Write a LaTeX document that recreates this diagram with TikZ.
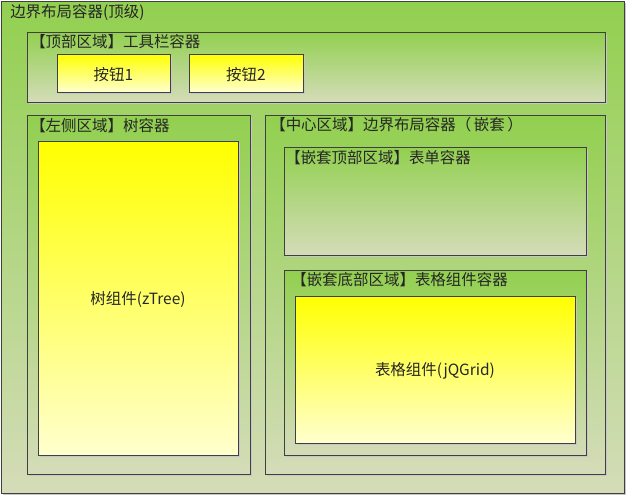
\documentclass[tikz,border=0pt]{standalone}
\usepackage{fontspec}
\setmainfont{Noto Sans CJK SC}
\usetikzlibrary{positioning,fit,shadows}

\definecolor{areatop}{RGB}{146,208,80}
\definecolor{areabot}{RGB}{212,220,184}
\definecolor{widgettop}{RGB}{255,255,0}
\definecolor{widgetbot}{RGB}{255,255,206}

\begin{document}
\begin{tikzpicture}[
    x=0.025cm, y=-0.025cm,
    region/.style={rectangle, draw=black!75, line width=0.7pt, inner sep=0pt, top color=areatop, bottom color=areabot, drop shadow={shadow xshift=0.05cm, shadow yshift=-0.05cm, fill=black!22, opacity=1}},
    widget/.style={region, top color=widgettop, bottom color=widgetbot},
    title/.style={anchor=west, inner sep=0pt, font=\fontsize{11}{13}\selectfont, text=black!85},
    caption/.style={inner sep=0pt, yshift=-0.04cm, font=\fontsize{11}{13}\selectfont, text=black!85}
]
    \useasboundingbox (0,0) rectangle (627,496);

    % outer border layout
    \node[region, fit={(1,1) (624,493)}] (outer) {};
    \node[title] (outertitle) at (10,12) {边界布局容器(顶级)};

    % top area
    \node[region, fit={(27,32) (605,102)}] (top) {};
    \node[title] (toptitle) at (30,42) {【顶部区域】工具栏容器};
    \node[widget, fit={(57,54) (170,92)}] (btnone) {};
    \node[caption] at (btnone.center) {按钮1};
    \node[widget, fit={(189,54) (303,92)}] (btntwo) {};
    \node[caption] at (btntwo.center) {按钮2};

    % left area
    \node[region, fit={(27,115) (250,474)}] (left) {};
    \node[title] (lefttitle) at (30,126) {【左侧区域】树容器};
    \node[widget, fit={(38,141) (238,455)}] (tree) {};
    \node[caption] at (tree.center) {树组件(zTree)};

    % center area
    \node[region, fit={(265,115) (605,474)}] (center) {};
    \node[title] (centertitle) at (270,125) {【中心区域】边界布局容器（\,嵌套\,）};

    \node[region, fit={(284,147) (586,255)}] (ntop) {};
    \node[title] (ntoptitle) at (285,158) {【嵌套顶部区域】表单容器};

    \node[region, fit={(284,270) (586,455)}] (nbottom) {};
    \node[title] (nbottomtitle) at (291,280) {【嵌套底部区域】表格组件容器};
    \node[widget, fit={(295,296) (575,443)}] (grid) {};
    \node[caption] at (grid.center) {表格组件(jQGrid)};
\end{tikzpicture}
\end{document}
